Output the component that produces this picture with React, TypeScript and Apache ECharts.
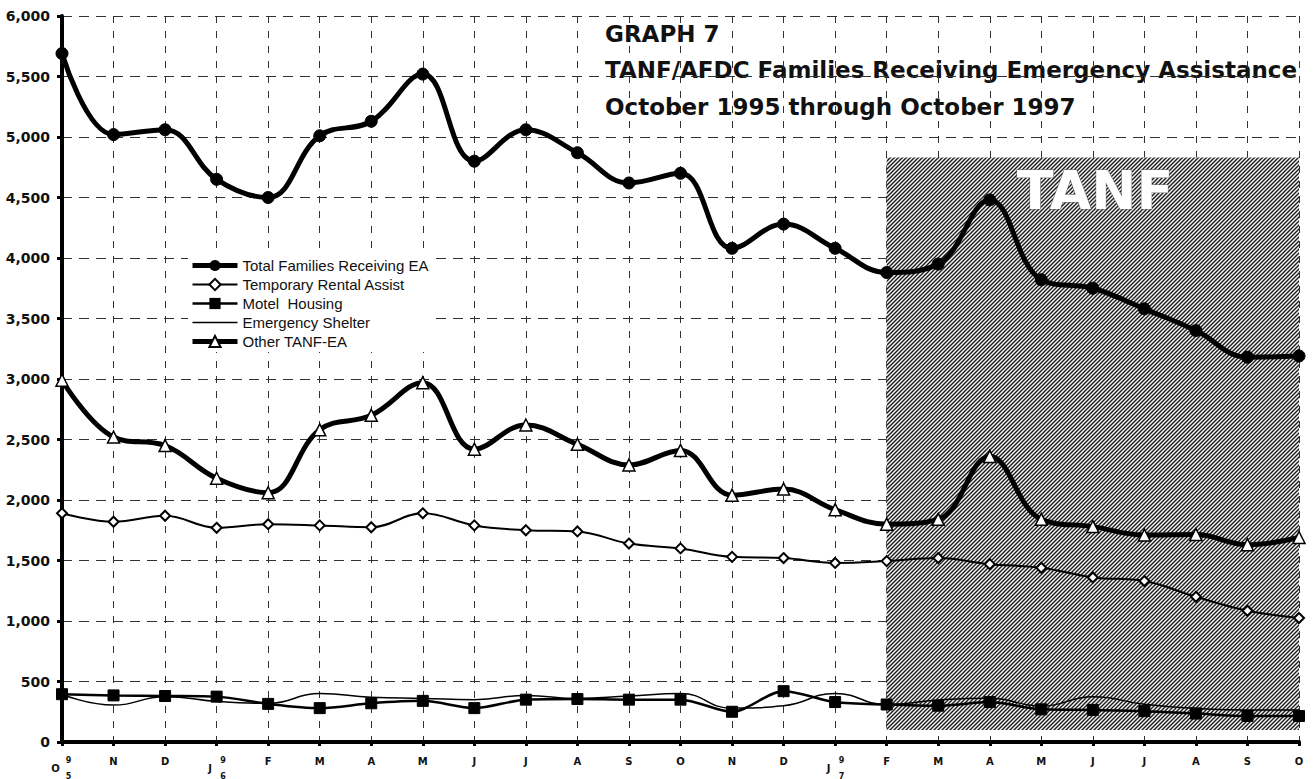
import React, { useEffect, useRef } from "react";
import * as echarts from "echarts";

const categories = [
  "Oct 1995", "Nov 1995", "Dec 1995", "Jan 1996", "Feb 1996", "Mar 1996", "Apr 1996",
  "May 1996", "Jun 1996", "Jul 1996", "Aug 1996", "Sep 1996", "Oct 1996", "Nov 1996",
  "Dec 1996", "Jan 1997", "Feb 1997", "Mar 1997", "Apr 1997", "May 1997", "Jun 1997",
  "Jul 1997", "Aug 1997", "Sep 1997", "Oct 1997",
];
const yearMarked = ["Oct 1995", "Jan 1996", "Jan 1997"];

const totalFamilies = [5690, 5020, 5060, 4650, 4500, 5010, 5130, 5520, 4800, 5060, 4870, 4620, 4700, 4080, 4280, 4080, 3880, 3950, 4480, 3820, 3750, 3580, 3400, 3180, 3190];
const rentalAssist = [1890, 1820, 1870, 1770, 1800, 1790, 1775, 1890, 1790, 1750, 1740, 1640, 1600, 1530, 1520, 1480, 1495, 1520, 1470, 1440, 1360, 1330, 1200, 1085, 1025];
const motelHousing = [395, 385, 380, 375, 315, 280, 320, 340, 280, 350, 355, 350, 350, 250, 420, 330, 310, 300, 330, 270, 265, 255, 235, 215, 215];
const emergencyShelter = [395, 305, 375, 335, 320, 400, 370, 360, 350, 385, 360, 380, 400, 280, 300, 400, 311, 347, 361, 297, 375, 311, 278, 264, 264];
const otherTanf = [2990, 2520, 2450, 2180, 2060, 2580, 2700, 2970, 2420, 2620, 2460, 2290, 2410, 2040, 2090, 1920, 1800, 1840, 2360, 1840, 1780, 1710, 1715, 1630, 1690];

const yTicks = { min: 0, max: 6000, interval: 500 };
const tanfPeriod = { startIndex: 16, endIndex: 24, top: 4830, bottom: 100 };

const seriesNames = [
  "Total Families Receiving EA",
  "Temporary Rental Assist",
  "Motel  Housing",
  "Emergency Shelter",
  "Other TANF-EA",
];

const titleLines = [
  "GRAPH 7",
  "TANF/AFDC Families Receiving Emergency Assistance",
  "October 1995 through October 1997",
];

function makeHatch() {
  const c = document.createElement("canvas");
  c.width = 4;
  c.height = 4;
  const ctx = c.getContext("2d")!;
  ctx.fillStyle = "#f4f4f4";
  ctx.fillRect(0, 0, 4, 4);
  ctx.strokeStyle = "#1a1a1a";
  ctx.lineWidth = 1.35;
  ctx.beginPath();
  ctx.moveTo(-1, 5);
  ctx.lineTo(5, -1);
  ctx.moveTo(-1, 1);
  ctx.lineTo(1, -1);
  ctx.moveTo(3, 5);
  ctx.lineTo(5, 3);
  ctx.stroke();
  return c;
}

function fmtThousands(v: number) {
  return String(v).replace(/\B(?=(\d{3})+(?!\d))/g, ",");
}

export default function App() {
  const ref = useRef<HTMLDivElement>(null);

  useEffect(() => {
    if (!ref.current) return;
    const chart = echarts.init(ref.current, undefined, { renderer: "svg" });
    const hatch = makeHatch();

    const option: any = {
      animation: false,
      backgroundColor: "#ffffff",
      grid: {
        left: 62,
        right: 15,
        top: 16,
        bottom: 37,
        containLabel: false,
        outerBoundsMode: "none",
      },
      legend: {
        left: 188,
        top: 255,
        orient: "vertical",
        itemWidth: 45,
        itemHeight: 14,
        itemGap: 2,
        padding: [2, 6, 2, 2],
        backgroundColor: "#ffffff",
        textStyle: { fontFamily: "Liberation Sans", fontSize: 15, color: "#111", lineHeight: 17 },
        data: [
          { name: seriesNames[0], lineStyle: { width: 5, color: "#000" } },
          { name: seriesNames[1], lineStyle: { width: 2, color: "#000" } },
          { name: seriesNames[2], lineStyle: { width: 2.5, color: "#000" } },
          { name: seriesNames[3], lineStyle: { width: 1.5, color: "#000" }, itemStyle: { opacity: 0 } },
          { name: seriesNames[4], lineStyle: { width: 5, color: "#000" } },
        ],
      },
      xAxis: {
        type: "category",
        data: categories,
        boundaryGap: false,
        axisLine: { lineStyle: { color: "#000", width: 4 } },
        axisTick: { show: true, interval: 0, length: 4, lineStyle: { color: "#000", width: 3 } },
        axisLabel: {
          interval: 0,
          margin: 14,
          fontFamily: "DejaVu Sans",
          fontWeight: "bold",
          fontSize: 10,
          color: "#111",
          formatter: (value: string) => {
            const m = value.charAt(0);
            if (yearMarked.indexOf(value) >= 0) {
              const y = value.slice(-2);
              return `{pad|}{d|${y[0]}}\n{ym|${m}}{pad|}\n{pad|}{d|${y[1]}}`;
            }
            return `{m|${m}}`;
          },
          rich: {
            m: { fontFamily: "DejaVu Sans", fontWeight: "bold", fontSize: 10, lineHeight: 11, color: "#111" },
            ym: { fontFamily: "DejaVu Sans", fontWeight: "bold", fontSize: 10, lineHeight: 8, color: "#111" },
            d: { fontFamily: "DejaVu Sans", fontWeight: "bold", fontSize: 8, lineHeight: 8, color: "#111" },
            pad: { width: 13, lineHeight: 8 },
          },
        },
        splitLine: {
          show: true,
          interval: 0,
          lineStyle: { color: "#333", width: 1, type: [7, 8] },
        },
      },
      yAxis: {
        type: "value",
        min: yTicks.min,
        max: yTicks.max,
        interval: yTicks.interval,
        axisLine: { show: true, lineStyle: { color: "#000", width: 4 } },
        axisTick: { show: true, length: 5, lineStyle: { color: "#000", width: 3 } },
        axisLabel: {
          margin: 12,
          fontFamily: "DejaVu Sans",
          fontWeight: "bold",
          fontSize: 14,
          color: "#111",
          formatter: (v: number) => fmtThousands(v),
        },
        splitLine: { show: true, lineStyle: { color: "#333", width: 1, type: [10, 7] } },
      },
      graphic: [
        ...titleLines.map((t, i) => ({
          type: "text",
          left: 605,
          top: 22 + i * 36.7,
          style: {
            text: t,
            fontFamily: "DejaVu Sans",
            fontWeight: "bold",
            fontSize: 23,
            fill: "#111",
          },
        })),
        {
          type: "text",
          z: 5,
          x: 1095,
          y: 190,
          style: {
            text: "TANF",
            align: "center",
            verticalAlign: "middle",
            fontFamily: "DejaVu Sans",
            fontWeight: "bold",
            fontSize: 54,
            fill: "#ffffff",
            stroke: "#666666",
            lineWidth: 1,
          },
        },
      ],
      series: [
        {
          name: seriesNames[0],
          type: "line",
          data: totalFamilies,
          smooth: 0.4,
          symbol: "circle",
          symbolSize: 12,
          lineStyle: { color: "#000", width: 5 },
          itemStyle: { color: "#000", borderColor: "#000" },
          z: 6,
          markArea: {
            silent: true,
            itemStyle: { color: { image: hatch, repeat: "repeat" } },
            data: [
              [
                { xAxis: tanfPeriod.startIndex, yAxis: tanfPeriod.top },
                { xAxis: tanfPeriod.endIndex, yAxis: tanfPeriod.bottom },
              ],
            ],
          },
        },
        {
          name: seriesNames[1],
          type: "line",
          data: rentalAssist,
          smooth: 0.4,
          symbol: "diamond",
          symbolSize: 10,
          lineStyle: { color: "#000", width: 2 },
          itemStyle: { color: "#fff", borderColor: "#000", borderWidth: 2 },
          z: 6,
        },
        {
          name: seriesNames[2],
          type: "line",
          data: motelHousing,
          smooth: 0.3,
          symbol: "rect",
          symbolSize: 11,
          lineStyle: { color: "#000", width: 2.5 },
          itemStyle: { color: "#000", borderColor: "#000" },
          z: 6,
        },
        {
          name: seriesNames[3],
          type: "line",
          data: emergencyShelter,
          smooth: 0.5,
          symbol: "none",
          lineStyle: { color: "#000", width: 1.5 },
          itemStyle: { color: "#000" },
          z: 6,
        },
        {
          name: seriesNames[4],
          type: "line",
          data: otherTanf,
          smooth: 0.4,
          symbol: "triangle",
          symbolSize: 12,
          lineStyle: { color: "#000", width: 5 },
          itemStyle: { color: "#fff", borderColor: "#000", borderWidth: 1.5 },
          z: 6,
        },
      ],
    };

    chart.setOption(option);
    return () => chart.dispose();
  }, []);

  return (
    <div
      ref={ref}
      style={{ position: "fixed", left: 0, top: 0, width: 1314, height: 779, background: "#fff" }}
    />
  );
}
